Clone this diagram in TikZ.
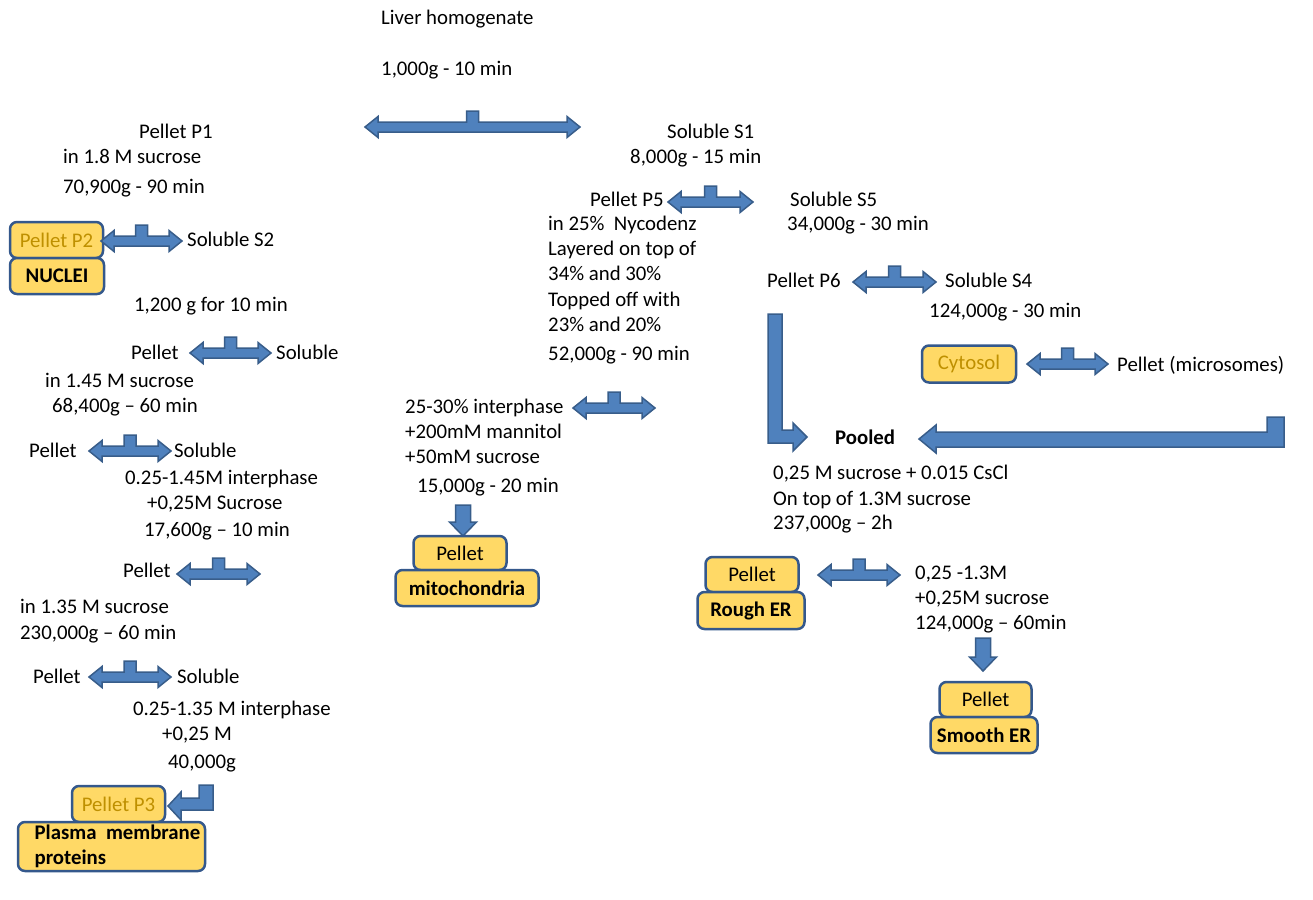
\documentclass[tikz,border=0pt]{standalone}
\usepackage{fontspec}
\setmainfont{Carlito}
\definecolor{arrowblue}{RGB}{79,129,189}
\definecolor{arrowline}{RGB}{56,93,138}
\definecolor{boxgold}{RGB}{255,217,102}
\definecolor{boxline}{RGB}{52,88,140}
\definecolor{goldtext}{RGB}{191,144,0}
% T-shaped double block arrow: left tip x, right tip x, y
\newcommand{\blockT}[3]{%
  \filldraw[blockarrow] (#1,#3) -- ++(13,-10.5) -- ++(0,5.5)
    -- ({(#1+#2)/2-6},{#3-5}) -- ++(0,-11) -- ++(12,0) -- ++(0,11)
    -- ({#2-13},{#3-5}) -- ++(0,-5.5) -- (#2,#3) -- ++(-13,10.5) -- ++(0,-5.5)
    -- ({#1+13},{#3+5}) -- ++(0,5.5) -- cycle;}
% downward block arrow: x, top y, tip y
\newcommand{\blockdown}[3]{%
  \filldraw[blockarrow] ({#1-7.5},#2) -- ({#1+7.5},#2) -- ({#1+7.5},{#3-14})
    -- ({#1+13.5},{#3-14}) -- (#1,#3) -- ({#1-13.5},{#3-14})
    -- ({#1-7.5},{#3-14}) -- cycle;}
\begin{document}
\begin{tikzpicture}[x=1pt,y=-1pt,
    every node/.style={font=\fontsize{20.8}{25}\selectfont},
    txt/.style={anchor=base west, inner sep=0pt, yshift=-6.5pt},
    blockarrow/.style={fill=arrowblue, draw=arrowline, line width=1.5pt, line join=miter},
    pbox/.style={draw=boxline, fill=boxgold, line width=2.5pt, rounded corners=7pt,
      inner sep=0pt},
    goldbox/.style={pbox, text=goldtext},
    boldbox/.style={pbox, font=\fontsize{20.8}{25}\selectfont\bfseries}]
  \useasboundingbox (0,0) rectangle (1313,899);

  % top
  \node[txt] (lh) at (381,18) {Liver homogenate};
  \node[txt] (c1) at (381,69) {1,000g - 10 min};
  \blockT{365}{580}{127}

  % left branch
  \node[txt] (p1) at (139,132) {Pellet P1};
  \node[txt] (p1a) at (63,157) {in 1.8 M sucrose};
  \node[txt] (p1b) at (63,187) {70,900g - 90 min};
  \node[goldbox, minimum width=93, minimum height=36] (p2) at (56.5,240) {Pellet P2};
  \node[boldbox, minimum width=94, minimum height=36] (nuclei) at (57,276) {NUCLEI};
  \blockT{101}{182}{241}
  \node[txt] (s2) at (187,240) {Soluble S2};
  \node[txt] (c2) at (134,305) {1,200 g for 10 min};
  \node[txt] (pa) at (131,353) {Pellet};
  \blockT{190}{271}{353}
  \node[txt] (sa) at (276,353) {Soluble};
  \node[txt] (pa1) at (45,381) {in 1.45 M sucrose};
  \node[txt] (pa2) at (52,406) {68,400g -- 60 min};
  \node[txt] (pb) at (29,451) {Pellet};
  \blockT{89}{171}{451}
  \node[txt] (sb) at (174,451) {Soluble};
  \node[txt] (sb1) at (125,478) {0.25-1.45M interphase};
  \node[txt] (sb2) at (147,503) {+0,25M Sucrose};
  \node[txt] (sb3) at (144,530) {17,600g -- 10 min};
  \node[txt] (pc) at (123,571) {Pellet};
  \blockT{177}{260}{574}
  \node[txt] (pc1) at (20,607) {in 1.35 M sucrose};
  \node[txt] (pc2) at (20,633) {230,000g -- 60 min};
  \node[txt] (pd) at (33,677) {Pellet};
  \blockT{89}{171}{677}
  \node[txt] (sd) at (177,677) {Soluble};
  \node[txt] (sd1) at (133,709) {0.25-1.35 M interphase};
  \node[txt] (sd2) at (162,734) {+0,25 M};
  \node[txt] (sd3) at (168,762) {40,000g};
  \node[goldbox, minimum width=93, minimum height=36] (p3) at (118.5,804) {Pellet P3};
  \node[boldbox, minimum width=187, minimum height=49, align=left]
    (plasma) at (111.5,846.5) {\hspace*{12pt}Plasma\ \ membrane\\\hspace*{12pt}proteins};
  \filldraw[blockarrow] (199,785) -- (213,785) -- (213,810) -- (181,810) -- (181,820)
    -- (168,806) -- (181,792) -- (181,798) -- (199,798) -- cycle;

  % middle branch
  \node[txt] (s1) at (667,132) {Soluble S1};
  \node[txt] (s1a) at (630,157) {8,000g - 15 min};
  \node[txt] (p5) at (590,200) {Pellet P5};
  \blockT{668}{753}{202}
  \node[txt] (s5) at (790,200) {Soluble S5};
  \node[txt] (p5a) at (548,224) {in 25\%\ \ Nycodenz};
  \node[txt] (p5b) at (548,249) {Layered on top of};
  \node[txt] (p5c) at (548,274) {34\% and 30\%};
  \node[txt] (p5d) at (548,300) {Topped off with};
  \node[txt] (p5e) at (548,325) {23\% and 20\%};
  \node[txt] (p5f) at (548,354) {52,000g - 90 min};
  \node[txt] (ia) at (405,407) {25-30\% interphase};
  \blockT{573}{655}{408}
  \node[txt] (ib) at (405,432) {+200mM mannitol};
  \node[txt] (ic) at (405,457) {+50mM sucrose};
  \node[txt] (id) at (417,486) {15,000g - 20 min};
  \blockdown{463}{505}{536}
  \node[pbox, minimum width=93, minimum height=34] (mitop) at (460,553) {Pellet};
  \node[boldbox, minimum width=143, minimum height=36] (mito) at (467,588) {mitochondria};

  % right branch
  \node[txt] (s5a) at (787,224) {34,000g - 30 min};
  \node[txt] (p6) at (767,281) {Pellet P6};
  \blockT{853}{936}{282}
  \node[txt] (s4) at (945,281) {Soluble S4};
  \node[txt] (s4a) at (929,311) {124,000g - 30 min};
  \node[goldbox, minimum width=94, minimum height=37] (cyto) at (969,364) {Cytosol};
  \blockT{1027}{1108}{364}
  \node[txt] (micro) at (1117,365) {Pellet (microsomes)};
  \filldraw[blockarrow] (768,314) -- (782,314) -- (782,430) -- (793,430) -- (793,423)
    -- (807,437) -- (793,451) -- (793,443) -- (768,443) -- cycle;
  \filldraw[blockarrow] (1284,417) -- (1284,447) -- (936,447) -- (936,453)
    -- (919,439) -- (936,425) -- (936,432) -- (1267,432) -- (1267,417) -- cycle;
  \node[txt, font=\fontsize{20.8}{25}\selectfont\bfseries] (pooled) at (835,438) {Pooled};
  \node[txt] (pl1) at (773,473) {0,25 M sucrose + 0.015 CsCl};
  \node[txt] (pl2) at (773,499) {On top of 1.3M sucrose};
  \node[txt] (pl3) at (773,523) {237,000g -- 2h};
  \node[pbox, minimum width=93, minimum height=35] (roughp) at (752,574.5) {Pellet};
  \node[boldbox, minimum width=107, minimum height=37] (rough) at (751,610.5) {Rough ER};
  \blockT{818}{900}{575}
  \node[txt] (g1) at (915,573) {0,25 -1.3M};
  \node[txt] (g2) at (915,598) {+0,25M sucrose};
  \node[txt] (g3) at (915,623) {124,000g -- 60min};
  \blockdown{983}{638}{671}
  \node[pbox, minimum width=92, minimum height=35] (smoothp) at (985.5,699.5) {Pellet};
  \node[boldbox, minimum width=107, minimum height=36] (smooth) at (984,735) {Smooth ER};
\end{tikzpicture}
\end{document}
